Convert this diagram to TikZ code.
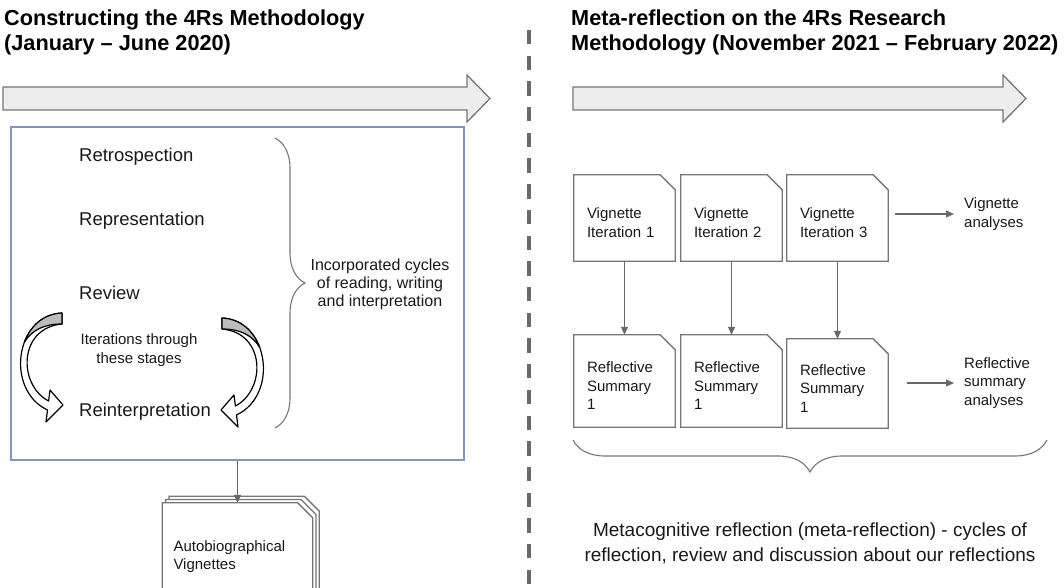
\documentclass[tikz,border=0pt]{standalone}
\usepackage{fontspec}
\setmainfont{Liberation Sans}
\usetikzlibrary{arrows.meta,backgrounds,decorations.pathreplacing}

\definecolor{bandgray}{RGB}{237,237,237}
\definecolor{rimgray}{RGB}{118,118,118}
\definecolor{linkgray}{RGB}{105,105,105}
\definecolor{frameblue}{RGB}{122,152,196}
\definecolor{foldgray}{RGB}{188,188,188}
\definecolor{ink}{RGB}{25,25,25}

% outline of a page with its top right corner cut off (optional offset for stacks)
\newcommand{\snipframe}[2][0]{%
  \draw[docline] ([shift={(#1pt,#1pt)}]#2.south west) -- ([shift={(#1pt,#1pt)}]#2.north west)
    -- ([shift={(#1pt-15pt,#1pt)}]#2.north east) -- ([shift={(#1pt,#1pt-15pt)}]#2.north east)
    -- ([shift={(#1pt,#1pt)}]#2.south east) -- cycle;}

% bent ribbon arrow, tail at the origin, bulging to the left
\newcommand{\bentarrow}{%
  \filldraw[fill=white, draw=black, line width=1.2pt, line join=round]
    (0,0) .. controls (-47,2) and (-57,77) .. (-14.5,97) -- (-16,109) -- (1,92)
    -- (-12,77) -- (-13.4,88) .. controls (-44,72) and (-44,15) .. (0,11) -- cycle;
  \filldraw[fill=foldgray, draw=black, line width=1.2pt, line join=round]
    (0,0) .. controls (-18.8,0.8) and (-31.68,13.28) .. (-37.65,29.25)
    .. controls (-30,17) and (-18,11) .. (0,11) -- cycle;}

\tikzset{
  title/.style={anchor=north west, align=left, inner sep=0pt, text=black,
    font=\bfseries\fontsize{21.7}{25}\selectfont},
  stage/.style={anchor=west, inner sep=0pt, text=ink, font=\fontsize{18.5}{22}\selectfont},
  note/.style={align=center, inner sep=0pt, text=ink},
  doc/.style={minimum width=101pt, minimum height=86pt, inner xsep=13pt, inner ysep=0pt,
    text width=75pt, text height=20pt, align=left, text=ink,
    font=\fontsize{15}{18.5}\selectfont},
  docline/.style={draw=rimgray, line width=1.3pt, fill=white},
  outcome/.style={anchor=west, align=left, inner xsep=10pt, inner ysep=0pt, text=ink,
    font=\fontsize{15}{18.5}\selectfont},
  conn/.style={draw=linkgray, line width=1.1pt, -{Triangle[length=8pt,width=7pt]}},
  blockarrow/.style={fill=bandgray, draw=rimgray, line width=1.3pt},
  bracket/.style={draw=rimgray, line width=1.1pt, decorate},
}

\begin{document}
\begin{tikzpicture}[x=1pt, y=-1pt]
  \useasboundingbox (0,0) rectangle (1064,588);
  \clip (0,0) rectangle (1064,588);

  % headings and time arrows
  \node[title] (lefthead) at (4,10) {Constructing the 4Rs Methodology\\(January -- June 2020)};
  \node[title] (righthead) at (571,10) {Meta-reflection on the 4Rs Research\\Methodology (November 2021 -- February 2022)};
  \foreach \xa/\xb in {3/467, 573/1003}
    \draw[blockarrow] (\xa,87) -- (\xb,87) -- (\xb,75) -- (\xb+23,98.5) -- (\xb,122)
      -- (\xb,110) -- (\xa,110) -- cycle;
  \draw[rimgray!90!black, line width=3.3pt, dash pattern=on 14.3pt off 11.4pt] (529,30) -- (529,588);

  % left half: the four stages
  \node[draw=frameblue, line width=1.1pt, minimum width=453pt, minimum height=333pt,
    inner sep=0pt] (frame) at (237.5,293.5) {};
  \node[stage] (retro) at (79,157) {Retrospection};
  \node[stage] (repr) at (79,221) {Representation};
  \node[stage] (review) at (79,293) {Review};
  \node[stage] (reint) at (79,412) {Reinterpretation};
  \node[note, font=\fontsize{15}{19}\selectfont] (iter) at (139,350) {Iterations through\\these stages};
  \begin{scope}[shift={(62,313)}]
    \bentarrow
  \end{scope}
  \begin{scope}[shift={(222,318)}, xscale=-1]
    \bentarrow
  \end{scope}
  \draw[bracket, decoration={brace, amplitude=30pt}] (275,138) -- (275,428);
  \node[note, font=\fontsize{16}{18}\selectfont] (cycles) at (380,284)
    {Incorporated cycles\\of reading, writing\\and interpretation};

  \node[doc, minimum width=150pt, minimum height=98pt, text width=128pt, inner xsep=11pt]
    (auto) at (237.5,552) {Autobiographical\\Vignettes};
  \draw[conn] (frame.south) -- (auto.north);

  % right half: iterations and summaries
  \node[doc] (vig1) at (624.5,218) {Vignette\\Iteration 1};
  \node[doc] (vig2) at (731.5,218) {Vignette\\Iteration 2};
  \node[doc] (vig3) at (837.5,218) {Vignette\\Iteration 3};
  \node[doc, minimum height=92pt] (ref1) at (624.5,381) {Reflective\\Summary\\1};
  \node[doc, minimum height=92pt] (ref2) at (731.5,381) {Reflective\\Summary\\1};
  \node[doc, minimum height=89pt] (ref3) at (837.5,383.5) {Reflective\\Summary\\1};
  \foreach \i in {1,2,3}
    \draw[conn] (vig\i) -- (ref\i);

  \node[outcome] (vigout) at (954,214) {Vignette\\analyses};
  \node[outcome] (refout) at (954,383) {Reflective\\summary\\analyses};
  \draw[conn, shorten <=7pt] (vig3.east |- vigout.west) -- (vigout.west);
  \draw[conn, shorten <=19pt] (ref3.east |- refout.west) -- (refout.west);

  \draw[bracket, decoration={brace, amplitude=32pt}] (1047,440) -- (573,440);
  \node[note, font=\fontsize{19}{25}\selectfont] (meta) at (810,543)
    {Metacognitive reflection (meta-reflection) - cycles of\\reflection, review and discussion about our reflections};

  % page outlines behind the texts
  \begin{scope}[on background layer]
    \snipframe[6.6]{auto}
    \snipframe[3.3]{auto}
    \snipframe{auto}
    \foreach \n in {vig1,vig2,vig3,ref1,ref2,ref3}
      \snipframe{\n};
  \end{scope}
\end{tikzpicture}
\end{document}
